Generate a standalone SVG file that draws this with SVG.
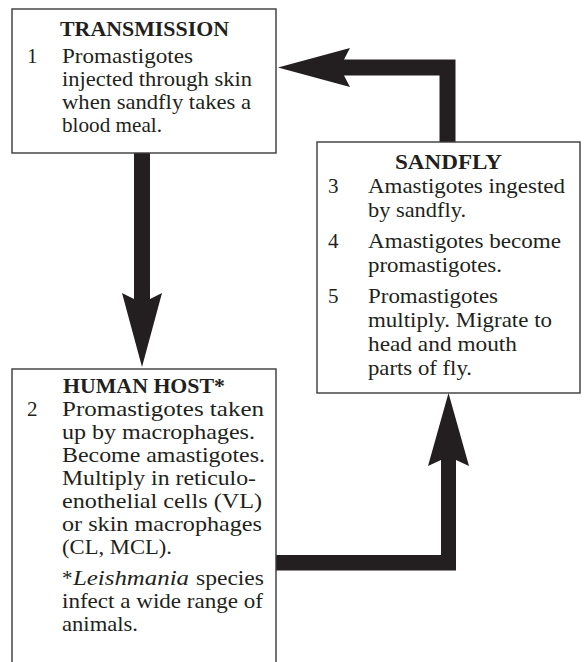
<svg xmlns="http://www.w3.org/2000/svg" width="585" height="662" viewBox="0 0 585 662">
<style>
.box{fill:#fff;stroke:#3a3a3a;stroke-width:1.4}
.t{font-family:"Liberation Serif","Times New Roman",serif;font-size:21px;fill:#231f20}
.h{font-weight:bold;text-anchor:middle}
.i{font-style:italic}
.arrow{fill:#231f20;stroke:none}
</style>
<rect width="585" height="662" fill="#fff"/>
<g id="connectors">
<polygon class="arrow" points="134,153 150,153 150,299 162,293 142,367 122,293 134,299"/>
<polygon class="arrow" points="439.5,142 455.5,142 455.5,59.5 344,59.5 350,48 278,67.5 350,87 344,75.5 439.5,75.5"/>
<polygon class="arrow" points="276,555 441,555 441,460 428,466 448.5,393 469,466 456,460 456,570.5 276,570.5"/>
</g>
<g id="transmission">
<rect class="box" x="12" y="9" width="264" height="144"/>
<text class="t h" x="144.5" y="36" textLength="169" lengthAdjust="spacingAndGlyphs">TRANSMISSION</text>
<text class="t" x="27" y="63">1</text>
<text class="t" x="62" y="63" textLength="131" lengthAdjust="spacingAndGlyphs">Promastigotes</text>
<text class="t" x="62" y="86" textLength="190" lengthAdjust="spacingAndGlyphs">injected through skin</text>
<text class="t" x="62" y="109" textLength="189" lengthAdjust="spacingAndGlyphs">when sandfly takes a</text>
<text class="t" x="62" y="132" textLength="100" lengthAdjust="spacingAndGlyphs">blood meal.</text>
</g>
<g id="sandfly">
<rect class="box" x="317" y="142" width="263" height="251"/>
<text class="t h" x="448.5" y="169" textLength="107" lengthAdjust="spacingAndGlyphs">SANDFLY</text>
<text class="t" x="328" y="193">3</text>
<text class="t" x="368" y="193" textLength="197" lengthAdjust="spacingAndGlyphs">Amastigotes ingested</text>
<text class="t" x="368" y="217" textLength="98" lengthAdjust="spacingAndGlyphs">by sandfly.</text>
<text class="t" x="328" y="248">4</text>
<text class="t" x="368" y="248" textLength="193" lengthAdjust="spacingAndGlyphs">Amastigotes become</text>
<text class="t" x="368" y="272" textLength="134" lengthAdjust="spacingAndGlyphs">promastigotes.</text>
<text class="t" x="328" y="303">5</text>
<text class="t" x="368" y="303" textLength="130" lengthAdjust="spacingAndGlyphs">Promastigotes</text>
<text class="t" x="368" y="327" textLength="184" lengthAdjust="spacingAndGlyphs">multiply. Migrate to</text>
<text class="t" x="368" y="351" textLength="149" lengthAdjust="spacingAndGlyphs">head and mouth</text>
<text class="t" x="368" y="375" textLength="104" lengthAdjust="spacingAndGlyphs">parts of fly.</text>
</g>
<g id="human-host">
<rect class="box" x="12" y="369" width="264" height="310"/>
<text class="t h" x="144" y="393" textLength="162" lengthAdjust="spacingAndGlyphs">HUMAN HOST*</text>
<text class="t" x="27" y="416">2</text>
<text class="t" x="62" y="416" textLength="202" lengthAdjust="spacingAndGlyphs">Promastigotes taken</text>
<text class="t" x="62" y="439" textLength="193" lengthAdjust="spacingAndGlyphs">up by macrophages.</text>
<text class="t" x="62" y="462" textLength="203" lengthAdjust="spacingAndGlyphs">Become amastigotes.</text>
<text class="t" x="62" y="485" textLength="194" lengthAdjust="spacingAndGlyphs">Multiply in reticulo-</text>
<text class="t" x="62" y="508" textLength="200" lengthAdjust="spacingAndGlyphs">enothelial cells (VL)</text>
<text class="t" x="62" y="531" textLength="200" lengthAdjust="spacingAndGlyphs">or skin macrophages</text>
<text class="t" x="62" y="554" textLength="110" lengthAdjust="spacingAndGlyphs">(CL, MCL).</text>
<text class="t" x="62" y="585">*</text>
<text class="t i" x="73" y="585" textLength="116" lengthAdjust="spacingAndGlyphs">Leishmania</text>
<text class="t" x="196" y="585" textLength="68" lengthAdjust="spacingAndGlyphs">species</text>
<text class="t" x="62" y="608" textLength="201" lengthAdjust="spacingAndGlyphs">infect a wide range of</text>
<text class="t" x="62" y="631" textLength="76" lengthAdjust="spacingAndGlyphs">animals.</text>
</g>
</svg>
